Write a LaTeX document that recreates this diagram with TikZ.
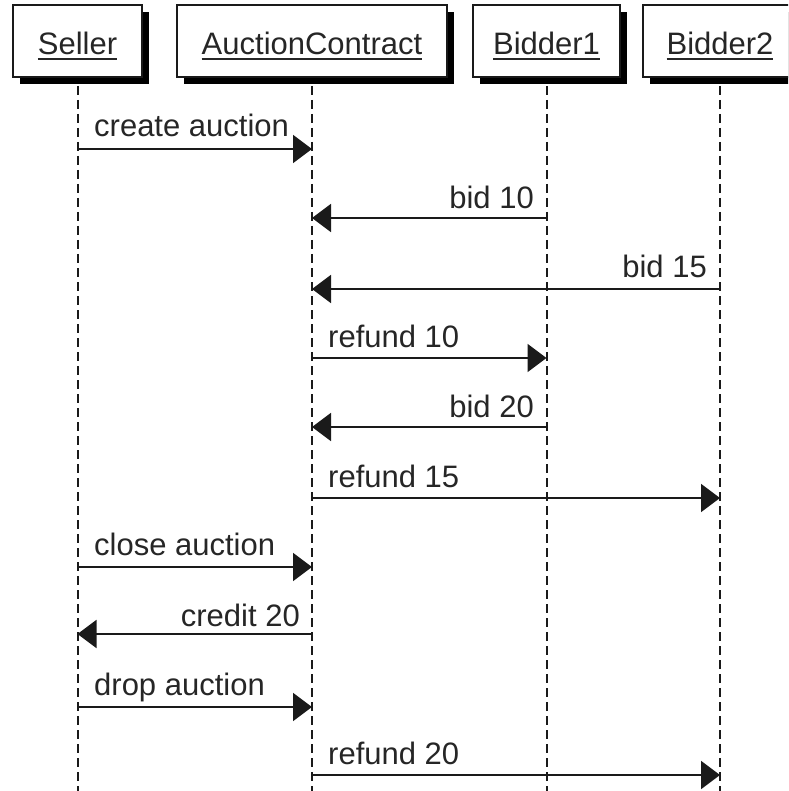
\documentclass[tikz,border=0pt]{standalone}
\usepackage{fontspec}
\setmainfont{Liberation Sans}
\usetikzlibrary{arrows.meta,shadows}

\definecolor{ink}{HTML}{1A1A1A}
\definecolor{txt}{HTML}{262626}

% underlined participant name
\newcommand{\ulbox}[1]{\setbox0=\hbox{#1}\rlap{\copy0}\rule[-5.5pt]{\wd0}{2pt}}

\tikzset{
  lbl/.style={font=\fontsize{31}{37}\selectfont, text=txt, inner sep=0pt},
  head/.style={draw=ink, line width=2pt, fill=white, minimum height=72pt,
    inner sep=0pt, text height=30pt, text depth=2pt,
    font=\fontsize{31}{37}\selectfont, text=txt,
    drop shadow={shadow xshift=7pt, shadow yshift=-7pt, fill=black, opacity=1}},
  life/.style={draw=ink, line width=2pt, dash pattern=on 9pt off 5pt},
  msg/.style={draw=ink, line width=2pt, -{Triangle[length=19pt,width=28pt]}},
}

\begin{document}
\begin{tikzpicture}[x=1pt,y=-1pt]
\useasboundingbox (0,0) rectangle (788,791);
\clip (0,0) rectangle (788,791);

% participants
\node[head, minimum width=129pt] (seller)   at (77.5,41) {\ulbox{Seller}};
\node[head, minimum width=270pt] (contract) at (312,41)  {\ulbox{AuctionContract}};
\node[head, minimum width=147pt] (bidder1)  at (546.5,41){\ulbox{Bidder1}};
\node[head, minimum width=154pt] (bidder2)  at (720,41)  {\ulbox{Bidder2}};

% lifelines
\coordinate (sellerEnd)   at (seller   |- 0,795);
\coordinate (contractEnd) at (contract |- 0,795);
\coordinate (bidder1End)  at (bidder1  |- 0,795);
\coordinate (bidder2End)  at (bidder2  |- 0,795);
\draw[life] ([yshift=-8pt]seller.south)   -- (sellerEnd);
\draw[life] ([yshift=-8pt]contract.south) -- (contractEnd);
\draw[life] ([yshift=-8pt]bidder1.south)  -- (bidder1End);
\draw[life] ([yshift=-8pt]bidder2.south)  -- (bidder2End);

% messages
\draw[msg] (seller |- 0,149) -- (contract |- 0,149);
\node[lbl, anchor=base west] (m1) at (94,137) {create auction};

\draw[msg] (bidder1 |- 0,218) -- (contract |- 0,218);
\node[lbl, anchor=base east] (m2) at (534,209) {bid 10};

\draw[msg] (bidder2 |- 0,289) -- (contract |- 0,289);
\node[lbl, anchor=base east] (m3) at (707,277) {bid 15};

\draw[msg] (contract |- 0,358) -- (bidder1 |- 0,358);
\node[lbl, anchor=base west] (m4) at (328,347) {refund 10};

\draw[msg] (bidder1 |- 0,427) -- (contract |- 0,427);
\node[lbl, anchor=base east] (m5) at (534,417) {bid 20};

\draw[msg] (contract |- 0,498) -- (bidder2 |- 0,498);
\node[lbl, anchor=base west] (m6) at (328,487) {refund 15};

\draw[msg] (seller |- 0,567) -- (contract |- 0,567);
\node[lbl, anchor=base west] (m7) at (94,555) {close auction};

\draw[msg] (contract |- 0,634) -- (seller |- 0,634);
\node[lbl, anchor=base east] (m8) at (300,626) {credit 20};

\draw[msg] (seller |- 0,707) -- (contract |- 0,707);
\node[lbl, anchor=base west] (m9) at (94,695) {drop auction};

\draw[msg] (contract |- 0,775) -- (bidder2 |- 0,775);
\node[lbl, anchor=base west] (m10) at (328,764) {refund 20};
\end{tikzpicture}
\end{document}
